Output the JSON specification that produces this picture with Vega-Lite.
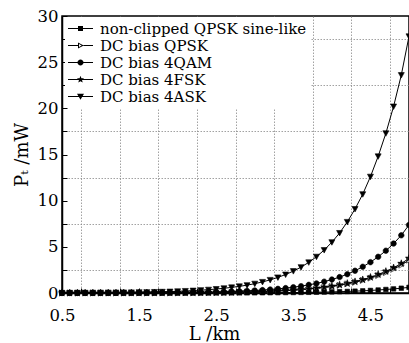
{
  "$schema": "https://vega.github.io/schema/vega-lite/v6.json",
  "width": 347,
  "height": 277,
  "autosize": {"type": "none"},
  "padding": {"left": 62, "top": 16, "right": 0, "bottom": 50},
  "background": "white",
  "config": {
    "view": {"stroke": "black", "strokeWidth": 1.5},
    "font": "DejaVu Serif",
    "axis": {
      "domainColor": "black",
      "domainWidth": 1.5,
      "tickColor": "black",
      "tickSize": -5,
      "tickWidth": 1,
      "gridColor": "#8a8a8a",
      "gridDash": [1.5, 1.5],
      "gridWidth": 0.8,
      "labelFont": "DejaVu Serif",
      "labelFontSize": 16.5,
      "labelColor": "black",
      "labelFlush": false,
      "titleFont": "DejaVu Serif",
      "titleFontSize": 18,
      "titleFontWeight": "normal",
      "titleColor": "black",
      "labelOverlap": false
    },
    "legend": {
      "orient": "none",
      "legendX": 3,
      "legendY": 1,
      "fillColor": "white",
      "padding": 3,
      "symbolSize": 625,
      "symbolOpacity": 1,
      "labelFont": "DejaVu Serif",
      "labelFontSize": 15,
      "labelColor": "black",
      "labelOffset": 7,
      "labelLimit": 400,
      "rowPadding": 0,
      "clipHeight": 17
    }
  },
  "data": {"values": [
    {"L":0.5,"s":"D","P":0.0019},{"L":0.6,"s":"D","P":0.0022},{"L":0.7,"s":"D","P":0.0027},{"L":0.8,"s":"D","P":0.0031},{"L":0.9,"s":"D","P":0.0037},{"L":1.0,"s":"D","P":0.0044},{"L":1.1,"s":"D","P":0.0051},{"L":1.2,"s":"D","P":0.0061},{"L":1.3,"s":"D","P":0.0073},{"L":1.4,"s":"D","P":0.0086},{"L":1.5,"s":"D","P":0.0102},{"L":1.6,"s":"D","P":0.012},{"L":1.7,"s":"D","P":0.0143},{"L":1.8,"s":"D","P":0.0169},{"L":1.9,"s":"D","P":0.0201},{"L":2.0,"s":"D","P":0.0238},{"L":2.1,"s":"D","P":0.0282},{"L":2.2,"s":"D","P":0.0333},{"L":2.3,"s":"D","P":0.0397},{"L":2.4,"s":"D","P":0.0461},{"L":2.5,"s":"D","P":0.055},{"L":2.6,"s":"D","P":0.0653},{"L":2.7,"s":"D","P":0.0781},{"L":2.8,"s":"D","P":0.0922},{"L":2.9,"s":"D","P":0.109},{"L":3.0,"s":"D","P":0.129},{"L":3.1,"s":"D","P":0.154},{"L":3.2,"s":"D","P":0.182},{"L":3.3,"s":"D","P":0.216},{"L":3.4,"s":"D","P":0.256},{"L":3.5,"s":"D","P":0.303},{"L":3.6,"s":"D","P":0.358},{"L":3.7,"s":"D","P":0.425},{"L":3.8,"s":"D","P":0.503},{"L":3.9,"s":"D","P":0.595},{"L":4.0,"s":"D","P":0.704},{"L":4.1,"s":"D","P":0.832},{"L":4.2,"s":"D","P":0.986},{"L":4.3,"s":"D","P":1.16},{"L":4.4,"s":"D","P":1.37},{"L":4.5,"s":"D","P":1.61},{"L":4.6,"s":"D","P":1.89},{"L":4.7,"s":"D","P":2.21},{"L":4.8,"s":"D","P":2.59},{"L":4.9,"s":"D","P":3.02},{"L":5.0,"s":"D","P":3.56},
    {"L":0.5,"s":"F","P":0.002},{"L":0.6,"s":"F","P":0.0023},{"L":0.7,"s":"F","P":0.0028},{"L":0.8,"s":"F","P":0.0032},{"L":0.9,"s":"F","P":0.0039},{"L":1.0,"s":"F","P":0.0046},{"L":1.1,"s":"F","P":0.0054},{"L":1.2,"s":"F","P":0.0065},{"L":1.3,"s":"F","P":0.0077},{"L":1.4,"s":"F","P":0.009},{"L":1.5,"s":"F","P":0.0108},{"L":1.6,"s":"F","P":0.0127},{"L":1.7,"s":"F","P":0.0151},{"L":1.8,"s":"F","P":0.0178},{"L":1.9,"s":"F","P":0.0212},{"L":2.0,"s":"F","P":0.0251},{"L":2.1,"s":"F","P":0.0297},{"L":2.2,"s":"F","P":0.0351},{"L":2.3,"s":"F","P":0.0419},{"L":2.4,"s":"F","P":0.0486},{"L":2.5,"s":"F","P":0.058},{"L":2.6,"s":"F","P":0.0689},{"L":2.7,"s":"F","P":0.0824},{"L":2.8,"s":"F","P":0.0972},{"L":2.9,"s":"F","P":0.115},{"L":3.0,"s":"F","P":0.136},{"L":3.1,"s":"F","P":0.162},{"L":3.2,"s":"F","P":0.192},{"L":3.3,"s":"F","P":0.228},{"L":3.4,"s":"F","P":0.27},{"L":3.5,"s":"F","P":0.32},{"L":3.6,"s":"F","P":0.378},{"L":3.7,"s":"F","P":0.448},{"L":3.8,"s":"F","P":0.531},{"L":3.9,"s":"F","P":0.628},{"L":4.0,"s":"F","P":0.743},{"L":4.1,"s":"F","P":0.878},{"L":4.2,"s":"F","P":1.04},{"L":4.3,"s":"F","P":1.23},{"L":4.4,"s":"F","P":1.44},{"L":4.5,"s":"F","P":1.7},{"L":4.6,"s":"F","P":2.0},{"L":4.7,"s":"F","P":2.34},{"L":4.8,"s":"F","P":2.73},{"L":4.9,"s":"F","P":3.19},{"L":5.0,"s":"F","P":3.75},
    {"L":0.5,"s":"S","P":0.0003},{"L":0.6,"s":"S","P":0.0004},{"L":0.7,"s":"S","P":0.0005},{"L":0.8,"s":"S","P":0.0005},{"L":0.9,"s":"S","P":0.0006},{"L":1.0,"s":"S","P":0.0007},{"L":1.1,"s":"S","P":0.0009},{"L":1.2,"s":"S","P":0.0011},{"L":1.3,"s":"S","P":0.0013},{"L":1.4,"s":"S","P":0.0015},{"L":1.5,"s":"S","P":0.0018},{"L":1.6,"s":"S","P":0.0021},{"L":1.7,"s":"S","P":0.0025},{"L":1.8,"s":"S","P":0.0029},{"L":1.9,"s":"S","P":0.0035},{"L":2.0,"s":"S","P":0.0041},{"L":2.1,"s":"S","P":0.0048},{"L":2.2,"s":"S","P":0.0057},{"L":2.3,"s":"S","P":0.0068},{"L":2.4,"s":"S","P":0.0079},{"L":2.5,"s":"S","P":0.0095},{"L":2.6,"s":"S","P":0.0112},{"L":2.7,"s":"S","P":0.0134},{"L":2.8,"s":"S","P":0.0158},{"L":2.9,"s":"S","P":0.0187},{"L":3.0,"s":"S","P":0.0222},{"L":3.1,"s":"S","P":0.0264},{"L":3.2,"s":"S","P":0.0312},{"L":3.3,"s":"S","P":0.0372},{"L":3.4,"s":"S","P":0.044},{"L":3.5,"s":"S","P":0.0521},{"L":3.6,"s":"S","P":0.0616},{"L":3.7,"s":"S","P":0.073},{"L":3.8,"s":"S","P":0.0865},{"L":3.9,"s":"S","P":0.102},{"L":4.0,"s":"S","P":0.121},{"L":4.1,"s":"S","P":0.143},{"L":4.2,"s":"S","P":0.169},{"L":4.3,"s":"S","P":0.2},{"L":4.4,"s":"S","P":0.235},{"L":4.5,"s":"S","P":0.277},{"L":4.6,"s":"S","P":0.326},{"L":4.7,"s":"S","P":0.381},{"L":4.8,"s":"S","P":0.444},{"L":4.9,"s":"S","P":0.519},{"L":5.0,"s":"S","P":0.612},
    {"L":0.5,"s":"Q","P":0.004},{"L":0.6,"s":"Q","P":0.0045},{"L":0.7,"s":"Q","P":0.0056},{"L":0.8,"s":"Q","P":0.0064},{"L":0.9,"s":"Q","P":0.0077},{"L":1.0,"s":"Q","P":0.009},{"L":1.1,"s":"Q","P":0.0106},{"L":1.2,"s":"Q","P":0.0127},{"L":1.3,"s":"Q","P":0.0151},{"L":1.4,"s":"Q","P":0.0178},{"L":1.5,"s":"Q","P":0.0212},{"L":1.6,"s":"Q","P":0.0249},{"L":1.7,"s":"Q","P":0.0297},{"L":1.8,"s":"Q","P":0.035},{"L":1.9,"s":"Q","P":0.0416},{"L":2.0,"s":"Q","P":0.049},{"L":2.1,"s":"Q","P":0.058},{"L":2.2,"s":"Q","P":0.069},{"L":2.3,"s":"Q","P":0.082},{"L":2.4,"s":"Q","P":0.095},{"L":2.5,"s":"Q","P":0.114},{"L":2.6,"s":"Q","P":0.135},{"L":2.7,"s":"Q","P":0.162},{"L":2.8,"s":"Q","P":0.191},{"L":2.9,"s":"Q","P":0.225},{"L":3.0,"s":"Q","P":0.268},{"L":3.1,"s":"Q","P":0.318},{"L":3.2,"s":"Q","P":0.376},{"L":3.3,"s":"Q","P":0.448},{"L":3.4,"s":"Q","P":0.53},{"L":3.5,"s":"Q","P":0.628},{"L":3.6,"s":"Q","P":0.742},{"L":3.7,"s":"Q","P":0.88},{"L":3.8,"s":"Q","P":1.04},{"L":3.9,"s":"Q","P":1.23},{"L":4.0,"s":"Q","P":1.46},{"L":4.1,"s":"Q","P":1.72},{"L":4.2,"s":"Q","P":2.04},{"L":4.3,"s":"Q","P":2.41},{"L":4.4,"s":"Q","P":2.84},{"L":4.5,"s":"Q","P":3.34},{"L":4.6,"s":"Q","P":3.92},{"L":4.7,"s":"Q","P":4.58},{"L":4.8,"s":"Q","P":5.35},{"L":4.9,"s":"Q","P":6.25},{"L":5.0,"s":"Q","P":7.37},
    {"L":0.5,"s":"A","P":0.015},{"L":0.6,"s":"A","P":0.017},{"L":0.7,"s":"A","P":0.021},{"L":0.8,"s":"A","P":0.024},{"L":0.9,"s":"A","P":0.029},{"L":1.0,"s":"A","P":0.034},{"L":1.1,"s":"A","P":0.04},{"L":1.2,"s":"A","P":0.048},{"L":1.3,"s":"A","P":0.057},{"L":1.4,"s":"A","P":0.067},{"L":1.5,"s":"A","P":0.08},{"L":1.6,"s":"A","P":0.094},{"L":1.7,"s":"A","P":0.112},{"L":1.8,"s":"A","P":0.132},{"L":1.9,"s":"A","P":0.157},{"L":2.0,"s":"A","P":0.186},{"L":2.1,"s":"A","P":0.22},{"L":2.2,"s":"A","P":0.26},{"L":2.3,"s":"A","P":0.31},{"L":2.4,"s":"A","P":0.36},{"L":2.5,"s":"A","P":0.43},{"L":2.6,"s":"A","P":0.51},{"L":2.7,"s":"A","P":0.61},{"L":2.8,"s":"A","P":0.72},{"L":2.9,"s":"A","P":0.85},{"L":3.0,"s":"A","P":1.01},{"L":3.1,"s":"A","P":1.2},{"L":3.2,"s":"A","P":1.42},{"L":3.3,"s":"A","P":1.69},{"L":3.4,"s":"A","P":2.0},{"L":3.5,"s":"A","P":2.37},{"L":3.6,"s":"A","P":2.8},{"L":3.7,"s":"A","P":3.32},{"L":3.8,"s":"A","P":3.93},{"L":3.9,"s":"A","P":4.65},{"L":4.0,"s":"A","P":5.5},{"L":4.1,"s":"A","P":6.5},{"L":4.2,"s":"A","P":7.7},{"L":4.3,"s":"A","P":9.1},{"L":4.4,"s":"A","P":10.7},{"L":4.5,"s":"A","P":12.6},{"L":4.6,"s":"A","P":14.8},{"L":4.7,"s":"A","P":17.3},{"L":4.8,"s":"A","P":20.2},{"L":4.9,"s":"A","P":23.6},{"L":5.0,"s":"A","P":27.8}
  ]},
  "encoding": {
    "x": {
      "field": "L", "type": "quantitative",
      "scale": {"domain": [0.5, 5.0], "nice": false, "zero": false},
      "title": "L /km",
      "axis": {
        "values": [0.5,0.75,1.0,1.25,1.5,1.75,2.0,2.25,2.5,2.75,3.0,3.25,3.5,3.75,4.0,4.25,4.5,4.75,5.0],
        "format": ".1f",
        "labelExpr": "(datum.value*2)%2===1 ? datum.label : ''",
        "grid": true,
        "gridOpacity": {"condition": {"test": "(datum.value*4)%2===1", "value": 1}, "value": 0},
        "tickOpacity": {"condition": {"test": "(datum.value*4)%2===1 || (datum.value*2)%2===1", "value": 1}, "value": 0},
        "labelPadding": 19,
        "titlePadding": 2,
        "titleX": 152
      }
    },
    "y": {
      "field": "P", "type": "quantitative",
      "scale": {"domain": [0, 30], "nice": false},
      "title": "Pₜ /mW",
      "axis": {
        "values": [0,2.5,5,7.5,10,12.5,15,17.5,20,22.5,25,27.5,30],
        "format": ".0f",
        "labelExpr": "datum.value%5===0 ? datum.label : ''",
        "grid": true,
        "gridOpacity": {"condition": {"test": "datum.value%5===2.5", "value": 1}, "value": 0},
        "labelPadding": 9,
        "titlePadding": 6
      }
    }
  },
  "layer": [
    {
      "mark": {"type": "line", "color": "black", "strokeWidth": 1},
      "encoding": {"detail": {"field": "s", "type": "nominal"}}
    },
    {
      "mark": {"type": "point", "filled": true, "size": 100, "stroke": "black", "strokeWidth": 0.6, "opacity": 1},
      "encoding": {
        "shape": {
          "field": "s", "type": "nominal", "legend": null,
          "scale": {
            "domain": ["S","D","Q","F","A"],
            "range": [
              "M-0.45,-0.45H0.45V0.45H-0.45Z",
              "M-0.5,-0.6L0.6,0L-0.5,0.6Z",
              "M-0.55,0A0.55,0.55 0 1,1 0.55,0A0.55,0.55 0 1,1 -0.55,0Z",
              "M0,-0.75L0.176,-0.243L0.713,-0.232L0.285,0.093L0.441,0.607L0,0.3L-0.441,0.607L-0.285,0.093L-0.713,-0.232L-0.176,-0.243Z",
              "M-0.6,-0.5L0.6,-0.5L0,0.6Z"
            ]
          }
        },
        "fill": {"condition": {"test": "datum.s==='D'", "value": "white"}, "value": "black"}
      }
    },
    {
      "mark": {"type": "point", "filled": true, "color": "black", "opacity": 0},
      "encoding": {
        "shape": {
          "field": "s", "type": "nominal",
          "scale": {
            "domain": ["S","D","Q","F","A"],
            "range": [
              "M-1,-0.04H1V0.04H-1Z M-0.2,-0.2H0.2V0.2H-0.2Z",
              "M-1,-0.04H-0.2V0.04H-1Z M0.24,-0.04H1V0.04H0.24Z M-0.2,-0.24L0.26,0L-0.2,0.24Z M-0.12,-0.12L-0.12,0.12L0.09,0Z",
              "M-1,-0.04H1V0.04H-1Z M-0.24,0A0.24,0.24 0 1,1 0.24,0A0.24,0.24 0 1,1 -0.24,0Z",
              "M-1,-0.04H1V0.04H-1Z M0,-0.3L0.076,-0.105L0.285,-0.093L0.123,0.04L0.176,0.243L0,0.13L-0.176,0.243L-0.123,0.04L-0.285,-0.093L-0.076,-0.105Z",
              "M-1,-0.04H1V0.04H-1Z M-0.28,-0.22L0.28,-0.22L0,0.26Z"
            ]
          },
          "legend": {
            "title": null,
            "labelExpr": "datum.label==='S' ? 'non-clipped QPSK sine-like' : datum.label==='D' ? 'DC bias QPSK' : datum.label==='Q' ? 'DC bias 4QAM' : datum.label==='F' ? 'DC bias 4FSK' : 'DC bias 4ASK'",
            "symbolOpacity": 1,
            "symbolFillColor": "black",
            "symbolStrokeWidth": 0
          }
        }
      }
    }
  ],
  "resolve": {"scale": {"shape": "independent"}}
}
